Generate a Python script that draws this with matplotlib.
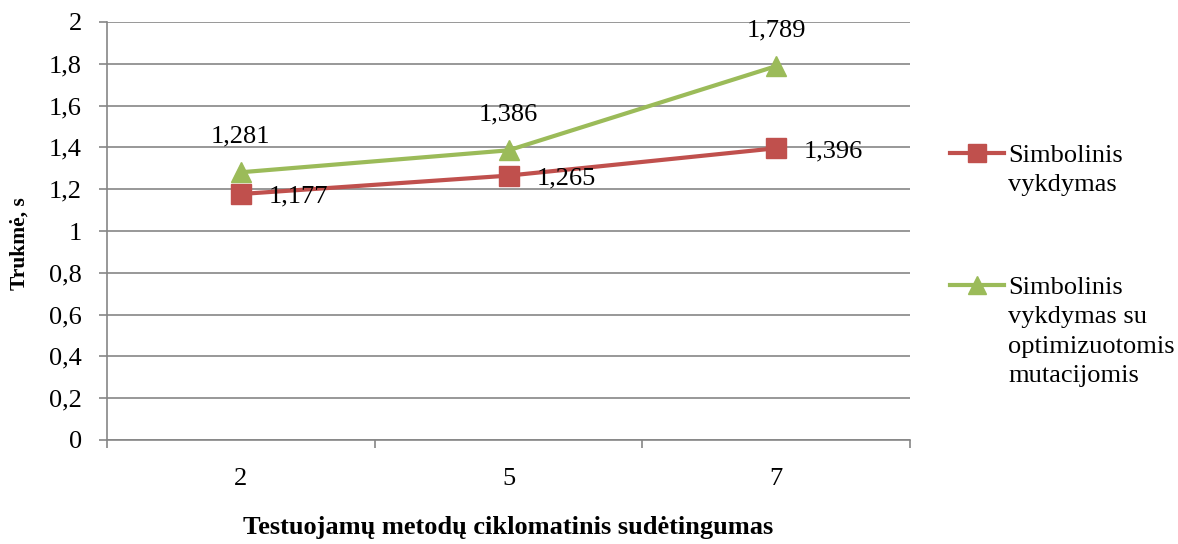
import matplotlib
matplotlib.use('agg')
import matplotlib.pyplot as plt
from matplotlib.lines import Line2D
from matplotlib.ticker import FuncFormatter

categories = ['2', '5', '7']
plain_vals = [1.177, 1.265, 1.396]
optim_vals = [1.281, 1.386, 1.789]
series_names = ['Simbolinis\nvykdymas',
                'Simbolinis\nvykdymas su\noptimizuotomis\nmutacijomis']
y_ticks = [0, 0.2, 0.4, 0.6, 0.8, 1, 1.2, 1.4, 1.6, 1.8, 2]

red = '#C0504D'
green = '#9BBB59'
grid_c = '#868686'

plt.rcParams['font.family'] = ['Liberation Serif', 'DejaVu Serif']
plt.rcParams['font.size'] = 19

W, H = 1178, 544


def comma(v, pos=None):
    s = ('%.3f' % v).rstrip('0').rstrip('.')
    return s.replace('.', ',')


fig = plt.figure(figsize=(W / 100, H / 100), dpi=100)
ax = fig.add_axes([107 / W, 104 / H, 803 / W, 418 / H])

xs = list(range(len(categories)))
ax.plot(xs, plain_vals, color=red, lw=3, marker='s', ms=14, zorder=3)
ax.plot(xs, optim_vals, color=green, lw=3, marker='^', ms=14, zorder=3)

for x, v in zip(xs, plain_vals):
    ax.annotate(comma(v), (x, v), xytext=(20, -2), textcoords='offset points',
                ha='left', va='center')
for x, v in zip(xs, optim_vals):
    ax.annotate(comma(v), (x, v), xytext=(0, 25.5), textcoords='offset points',
                ha='center', va='center')

ax.set_xlim(-0.5, len(categories) - 0.5)
ax.set_ylim(0, 2)
ax.set_yticks(y_ticks)
ax.yaxis.set_major_formatter(FuncFormatter(comma))
ax.set_xticks(xs)
ax.set_xticklabels(categories)
ax.set_xticks([-0.5, 0.5, 1.5, 2.5], minor=True)
ax.tick_params(axis='x', which='major', length=0, pad=20)
ax.tick_params(axis='x', which='minor', length=6, color=grid_c, width=1.2)
ax.tick_params(axis='y', length=6, color=grid_c, width=1.2, pad=12)
ax.yaxis.grid(True, color=grid_c, lw=1.2)
ax.set_axisbelow(True)
for side in ['top', 'right']:
    ax.spines[side].set_visible(False)
for side in ['left', 'bottom']:
    ax.spines[side].set_color(grid_c)
    ax.spines[side].set_linewidth(1.2)

ax.set_xlabel('Testuojamų metodų ciklomatinis sudėtingumas',
              fontweight='bold', fontsize=19)
ax.xaxis.set_label_coords(0.5, -0.182)
ax.set_ylabel('Trukmė, s', fontweight='bold', fontsize=15.5, va='center')
ax.yaxis.set_label_coords(-0.109, 0.469)

# legend, handle aligned with the first text line as in the original
legend_rows = [153, 285]
for (name, color, mk), row in zip(
        [(series_names[0], red, 's'), (series_names[1], green, '^')],
        legend_rows):
    yf = 1 - row / H
    fig.add_artist(Line2D([950 / W, 1004 / W], [yf, yf], color=color, lw=3,
                          transform=fig.transFigure))
    fig.add_artist(Line2D([977 / W], [yf], color=color, marker=mk, ms=12.5,
                          transform=fig.transFigure))
    fig.text(1008 / W, 1 - (row - 8) / H, name, ha='left', va='top',
             linespacing=1.43)

fig.savefig('out.png', dpi=100)
